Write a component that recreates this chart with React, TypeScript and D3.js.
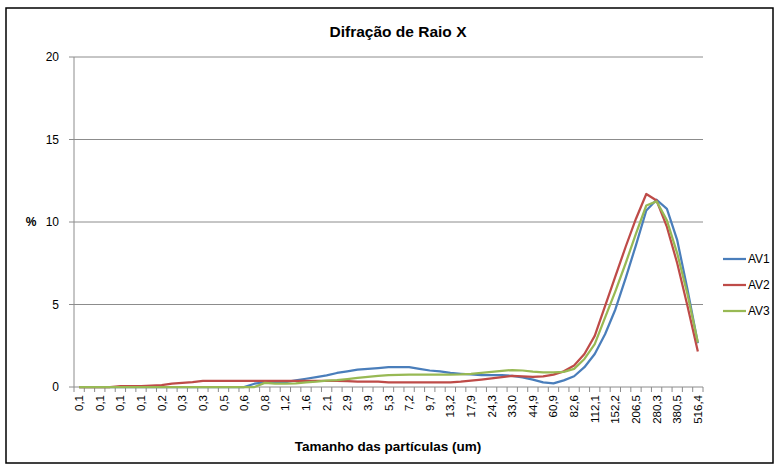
import React from "react";
import * as d3 from "d3";

const categories = [
  "0,1","0,1","0,1","0,1","0,1","0,1","0,1","0,2","0,2","0,2",
  "0,3","0,3","0,3","0,4","0,5","0,5","0,6","0,7","0,8","1,0",
  "1,2","1,3","1,6","1,8","2,1","2,4","2,9","3,3","3,9","4,5",
  "5,3","6,1","7,2","8,3","9,7","11,3","13,2","15,4","17,9","20,9",
  "24,3","28,3","33,0","38,5","44,9","52,3","60,9","70,9","82,6","96,2",
  "112,1","130,6","152,2","177,3","206,5","240,6","280,3","326,6","380,5","443,3",
  "516,4",
];

const av1 = [
  0,0,0,0,0,0,0,0,0,0,
  0,0,0,0,0,0,0,0.2,0.28,0.3,
  0.3,0.4,0.5,0.6,0.7,0.85,0.95,1.05,1.1,1.15,
  1.2,1.2,1.2,1.1,1.0,0.95,0.85,0.8,0.76,0.72,
  0.72,0.72,0.68,0.58,0.45,0.28,0.22,0.4,0.65,1.2,
  2.0,3.2,4.7,6.6,8.6,10.7,11.35,10.8,8.9,5.9,
  2.65,
];

const av2 = [
  0,0,0,0,0.05,0.05,0.05,0.08,0.12,0.2,
  0.25,0.3,0.37,0.37,0.37,0.37,0.37,0.37,0.37,0.37,
  0.37,0.37,0.37,0.37,0.37,0.37,0.35,0.32,0.32,0.32,
  0.28,0.28,0.28,0.28,0.28,0.28,0.28,0.32,0.38,0.45,
  0.52,0.6,0.68,0.65,0.62,0.65,0.75,0.95,1.3,2.0,
  3.1,4.9,6.7,8.5,10.2,11.7,11.3,9.7,7.5,4.9,
  2.15,
];

const av3 = [
  0,0,0,0,0,0,0,0,0,0,
  0,0,0,0,0,0,0,0,0.25,0.2,
  0.2,0.22,0.28,0.32,0.38,0.42,0.48,0.55,0.62,0.68,
  0.72,0.74,0.75,0.75,0.75,0.75,0.75,0.76,0.8,0.86,
  0.92,0.98,1.03,1.0,0.93,0.88,0.88,0.92,1.1,1.7,
  2.6,4.2,5.8,7.5,9.3,11.0,11.25,10.1,8.1,5.6,
  2.7,
];

const seriesNames = ["AV1", "AV2", "AV3"];
const seriesColors = ["#4a7ebb", "#be4b48", "#98b954"];
const yTicks = [0, 5, 10, 15, 20];

export default function App() {
  const W = 779, H = 466;
  const left = 74, right = 703, top = 57, bottom = 387;
  const font = "'Liberation Sans', Arial, sans-serif";

  const x = d3.scaleBand<number>().domain(d3.range(categories.length)).range([left, right]).paddingInner(0).paddingOuter(0);
  const y = d3.scaleLinear().domain([0, 20]).range([bottom, top]);
  const bw = x.bandwidth();
  const line = d3.line<number>().x((_, i) => (x(i) as number) + bw / 2).y((v) => y(v));
  const data = [av1, av2, av3];

  const boundaries = d3.range(categories.length + 1).map((i) => left + i * bw);

  return (
    <svg width={W} height={H} style={{ position: "absolute", left: 0, top: 0, fontFamily: font }}>
      <rect x={0} y={0} width={W} height={H} fill="#fff" />
      <rect x={6} y={8} width={767} height={455} fill="#fff" stroke="#000" strokeWidth={1.5} />
      <text x={398} y={37} textAnchor="middle" fontSize={15.5} fontWeight="bold" fill="#000">Difração de Raio X</text>

      {yTicks.filter((t) => t > 0).map((t) => (
        <line key={"g" + t} x1={left} x2={right} y1={y(t)} y2={y(t)} stroke="#8c8c8c" strokeWidth={1} />
      ))}
      <line x1={left} x2={left} y1={top} y2={bottom} stroke="#8c8c8c" strokeWidth={1} />
      {yTicks.map((t) => (
        <g key={"yt" + t}>
          <line x1={left - 5} x2={left} y1={y(t)} y2={y(t)} stroke="#8c8c8c" />
          <text x={left - 15} y={y(t) + 4} textAnchor="end" fontSize={12} fill="#000">{t}</text>
        </g>
      ))}
      <text x={31} y={y(10) + 4} textAnchor="middle" fontSize={12} fontWeight="bold" fill="#000">%</text>

      <line x1={left} x2={right} y1={bottom} y2={bottom} stroke="#8c8c8c" strokeWidth={1} />
      {boundaries.map((bx, i) => (
        <line key={"xt" + i} x1={bx} x2={bx} y1={bottom} y2={bottom + 5} stroke="#8c8c8c" />
      ))}
      {categories.map((c, i) =>
        i % 2 === 0 ? (
          <text
            key={"xl" + i}
            transform={`translate(${(x(i) as number) + bw / 2 + 4},${bottom + 8}) rotate(-90)`}
            textAnchor="end"
            fontSize={11.5}
            fill="#000"
          >
            {c}
          </text>
        ) : null
      )}
      <text x={388} y={451} textAnchor="middle" fontSize={13.5} fontWeight="bold" fill="#000">Tamanho das partículas (um)</text>

      {data.map((d, k) => (
        <path key={"s" + k} d={line(d) || ""} fill="none" stroke={seriesColors[k]} strokeWidth={2.25} strokeLinejoin="round" />
      ))}

      {seriesNames.map((n, k) => (
        <g key={"lg" + k}>
          <line x1={723} x2={746} y1={259 + k * 26} y2={259 + k * 26} stroke={seriesColors[k]} strokeWidth={2.25} />
          <text x={748} y={263 + k * 26} fontSize={12} fill="#000">{n}</text>
        </g>
      ))}
    </svg>
  );
}
